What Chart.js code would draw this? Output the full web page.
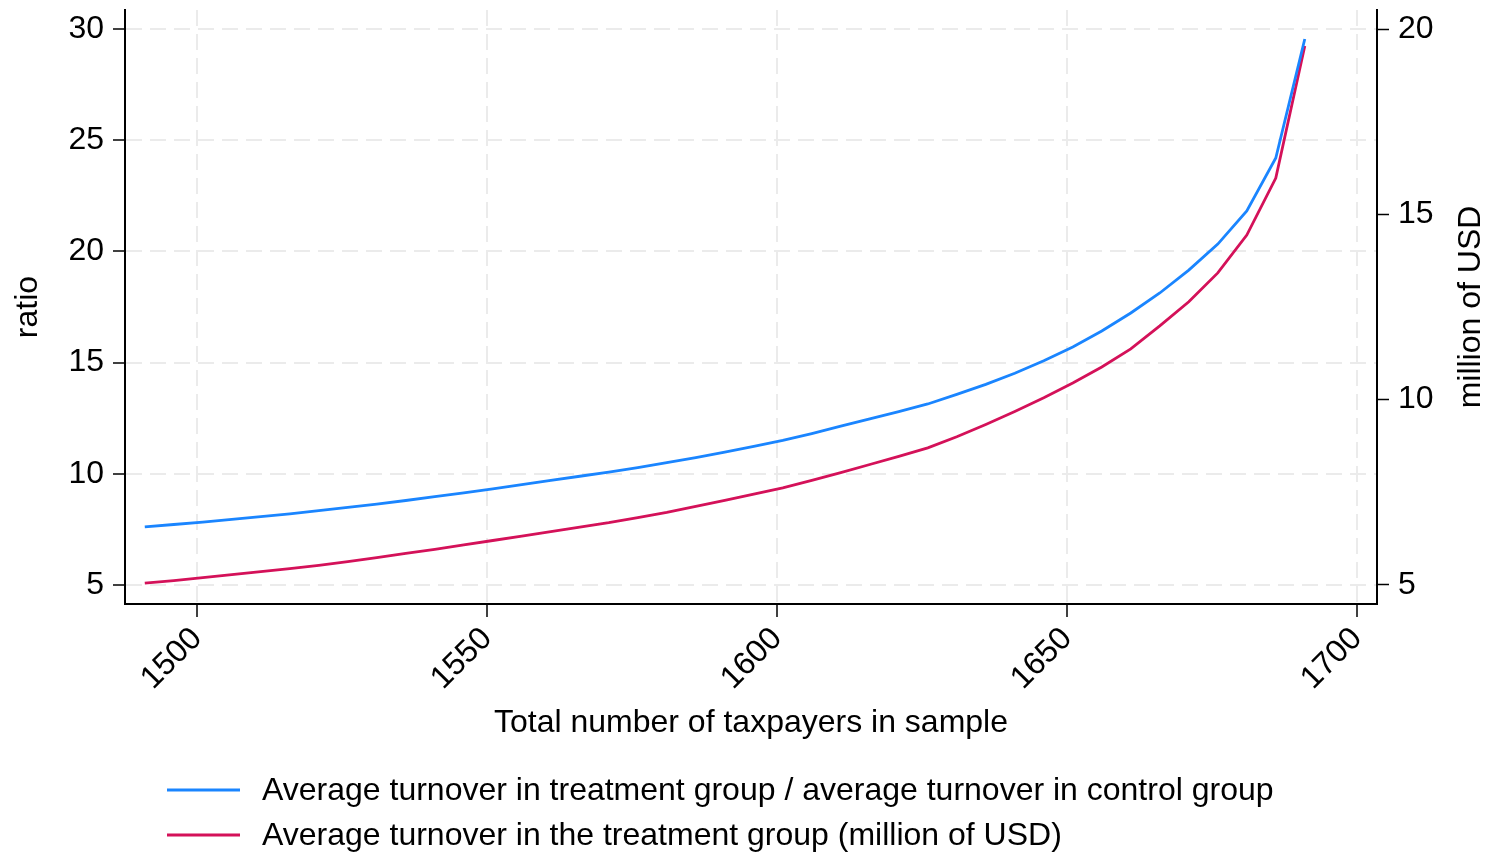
<!DOCTYPE html>
<html>
<head>
<meta charset="utf-8">
<script src="https://cdn.jsdelivr.net/npm/chart.js@4/dist/chart.umd.min.js"></script>
<style>
  html, body { margin: 0; padding: 0; background: #fff; }
  #wrap { width: 1491px; height: 854px; position: relative; }
</style>
</head>
<body>
<div id="wrap"><canvas id="turnoverChart"></canvas></div>
<script>
// Datos
const taxpayers = [1491, 1496, 1501, 1506, 1511, 1516, 1521, 1526, 1531, 1536,
  1541, 1546, 1551, 1556, 1561, 1566, 1571, 1576, 1581, 1586,
  1591, 1596, 1601, 1606, 1611, 1616, 1621, 1626, 1631, 1636,
  1641, 1646, 1651, 1656, 1661, 1666, 1671, 1676, 1681, 1686, 1691];

const ratioValues = [7.61, 7.72, 7.83, 7.95, 8.07, 8.20, 8.34, 8.49, 8.64, 8.80,
  8.97, 9.14, 9.32, 9.51, 9.70, 9.89, 10.08, 10.28, 10.50, 10.73,
  10.97, 11.23, 11.50, 11.81, 12.14, 12.47, 12.80, 13.14, 13.57, 14.02,
  14.52, 15.08, 15.70, 16.42, 17.23, 18.13, 19.16, 20.33, 21.82, 24.20, 29.55];

const turnoverValues = [5.05, 5.12, 5.20, 5.28, 5.36, 5.44, 5.53, 5.63, 5.74, 5.85,
  5.96, 6.08, 6.20, 6.32, 6.44, 6.56, 6.68, 6.82, 6.96, 7.12,
  7.28, 7.45, 7.62, 7.82, 8.03, 8.25, 8.47, 8.70, 9.00, 9.33,
  9.68, 10.05, 10.45, 10.88, 11.37, 11.99, 12.64, 13.42, 14.44, 15.98, 19.54];

const xTicks = [1500, 1550, 1600, 1650, 1700];
const ratioTicks = [5, 10, 15, 20, 25, 30];
const usdTicks = [5, 10, 15, 20];

const seriesLabels = [
  'Average turnover in treatment group / average turnover in control group',
  'Average turnover in the treatment group (million of USD)'
];

const FONT = '"Liberation Sans", Arial, Helvetica, sans-serif';
const GRID = '#ebebeb';

// Leyenda y titulo del eje derecho dibujados a mano
const extrasPlugin = {
  id: 'extras',
  afterDraw(chart) {
    const ctx = chart.ctx;
    ctx.save();
    ctx.font = '32px ' + FONT;
    ctx.fillStyle = '#000';
    ctx.textBaseline = 'middle';
    ctx.textAlign = 'left';
    chart.data.datasets.forEach((ds, i) => {
      const y = 790 + i * 45;
      ctx.strokeStyle = ds.borderColor;
      ctx.lineWidth = 3;
      ctx.beginPath();
      ctx.moveTo(167, y);
      ctx.lineTo(240, y);
      ctx.stroke();
      ctx.fillText(ds.label, 262, y + 1);
    });
    // titulo eje derecho (lee de abajo hacia arriba)
    const area = chart.chartArea;
    ctx.translate(1471, (area.top + area.bottom) / 2);
    ctx.rotate(-Math.PI / 2);
    ctx.textAlign = 'center';
    ctx.fillText('million of USD', 0, 0);
    ctx.restore();
  }
};

function setTicks(values) {
  return function(scale) {
    scale.ticks = values.map(v => ({ value: v }));
  };
}

// Ancho fijo y sin relleno extra por etiquetas
function fixWidth(w) {
  return function(scale) {
    scale.width = w;
    scale.paddingTop = 0;
    scale.paddingBottom = 0;
  };
}

const ctx = document.getElementById('turnoverChart').getContext('2d');

window.turnoverChart = new Chart(ctx, {
  type: 'line',
  data: {
    labels: taxpayers,
    datasets: [
      {
        label: seriesLabels[0],
        data: taxpayers.map((x, i) => ({ x: x, y: ratioValues[i] })),
        borderColor: '#1a85ff',
        borderWidth: 2.8,
        pointRadius: 0,
        tension: 0,
        fill: false,
        yAxisID: 'yRatio'
      },
      {
        label: seriesLabels[1],
        data: taxpayers.map((x, i) => ({ x: x, y: turnoverValues[i] })),
        borderColor: '#d41159',
        borderWidth: 2.8,
        pointRadius: 0,
        tension: 0,
        fill: false,
        yAxisID: 'yUsd'
      }
    ]
  },
  options: {
    responsive: true,
    maintainAspectRatio: false,
    animation: false,
    layout: { padding: { top: 10, bottom: 104, left: 0, right: 0 } },
    plugins: {
      legend: { display: false },
      tooltip: { enabled: false }
    },
    scales: {
      x: {
        type: 'linear',
        min: 1487.59,
        max: 1703.45,
        afterBuildTicks: setTicks(xTicks),
        afterFit: s => { s.height = 146; s.paddingLeft = 0; s.paddingRight = 0; },
        ticks: {
          maxRotation: 45,
          minRotation: 45,
          padding: 3,
          color: '#000',
          font: { family: FONT, size: 32 },
          callback: v => String(v)
        },
        grid: {
          color: GRID,
          lineWidth: 2,
          tickLength: 13,
          tickColor: '#000',
          tickWidth: 1.5,
          tickBorderDash: []
        },
        border: { display: true, color: '#000', width: 2, dash: [16, 8] },
        title: {
          display: true,
          text: 'Total number of taxpayers in sample',
          color: '#000',
          font: { family: FONT, size: 32, lineHeight: 1 },
          padding: { top: 0, bottom: 11 }
        }
      },
      yRatio: {
        type: 'linear',
        position: 'left',
        min: 4.146,
        max: 30.854,
        afterBuildTicks: setTicks(ratioTicks),
        afterFit: fixWidth(125),
        ticks: {
          padding: 9,
          color: '#000',
          font: { family: FONT, size: 32 }
        },
        grid: {
          color: GRID,
          lineWidth: 2,
          tickLength: 12,
          tickColor: '#000',
          tickWidth: 1.5,
          tickBorderDash: []
        },
        border: { display: true, color: '#000', width: 2, dash: [16, 8] },
        title: {
          display: true,
          text: 'ratio',
          color: '#000',
          font: { family: FONT, size: 32, lineHeight: 1 },
          padding: { top: 12, bottom: 0 }
        }
      },
      yUsd: {
        type: 'linear',
        position: 'right',
        min: 4.487,
        max: 20.513,
        afterBuildTicks: setTicks(usdTicks),
        afterFit: fixWidth(114),
        ticks: {
          padding: 9,
          color: '#000',
          font: { family: FONT, size: 32 }
        },
        grid: {
          drawOnChartArea: false,
          tickLength: 12,
          tickColor: '#000',
          tickWidth: 1.5,
          tickBorderDash: []
        },
        border: { display: true, color: '#000', width: 2 }
      }
    }
  },
  plugins: [extrasPlugin]
});
</script>
</body>
</html>
